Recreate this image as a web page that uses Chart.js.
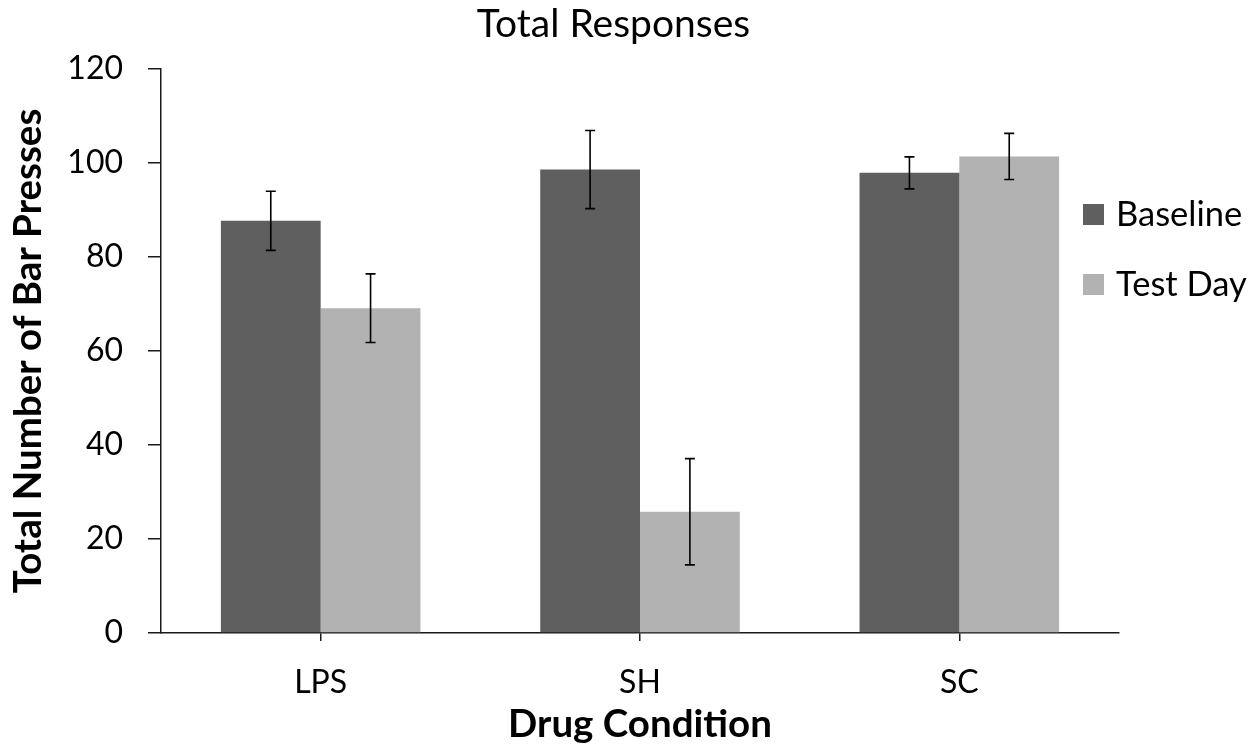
<!DOCTYPE html>
<html>
<head>
<meta charset="utf-8">
<title>Total Responses</title>
<script src="https://cdn.jsdelivr.net/npm/chart.js@4.4.1/dist/chart.umd.min.js"></script>
<style>
    html, body { margin: 0; padding: 0; background: #ffffff; }
</style>
</head>
<body>
<canvas id="responsesChart" width="1257" height="748"></canvas>
<script>
// Chart data
const conditions = ['LPS', 'SH', 'SC'];
const seriesNames = ['Baseline', 'Test Day'];
const baselineMeans = [87.7, 98.6, 97.9];
const baselineErrors = [6.3, 8.3, 3.4];
const testDayMeans = [69.1, 25.8, 101.4];
const testDayErrors = [7.3, 11.3, 4.9];
const yTicks = [0, 20, 40, 60, 80, 100, 120];

const FONT = 'Lato, "Open Sans", sans-serif';

// Draws the +/- error bars on top of each bar
const errorBarPlugin = {
    id: 'errorBars',
    afterDatasetsDraw: function (chart) {
        const ctx = chart.ctx;
        const yScale = chart.scales.y;
        ctx.save();
        ctx.strokeStyle = '#000000';
        ctx.lineWidth = 1.6;
        chart.data.datasets.forEach(function (ds, i) {
            const meta = chart.getDatasetMeta(i);
            meta.data.forEach(function (bar, j) {
                const top = yScale.getPixelForValue(ds.data[j] + ds.errors[j]);
                const bottom = yScale.getPixelForValue(ds.data[j] - ds.errors[j]);
                const x = bar.x;
                ctx.beginPath();
                ctx.moveTo(x, top);
                ctx.lineTo(x, bottom);
                ctx.moveTo(x - 5, top);
                ctx.lineTo(x + 5, top);
                ctx.moveTo(x - 5, bottom);
                ctx.lineTo(x + 5, bottom);
                ctx.stroke();
            });
        });
        ctx.restore();
    }
};

// Legend drawn inside the plot, to the right of the last group
const sideLegendPlugin = {
    id: 'sideLegend',
    afterDraw: function (chart) {
        const ctx = chart.ctx;
        ctx.save();
        ctx.font = '34.5px ' + FONT;
        ctx.textBaseline = 'middle';
        ctx.textAlign = 'left';
        chart.data.datasets.forEach(function (ds, i) {
            const cy = 214 + i * 70;
            ctx.fillStyle = ds.backgroundColor;
            ctx.fillRect(1083, cy - 10, 21, 21);
            ctx.fillStyle = '#000000';
            ctx.fillText(ds.label, 1116, cy + 1);
        });
        ctx.restore();
    }
};

const ctx = document.getElementById('responsesChart').getContext('2d');

new Chart(ctx, {
    type: 'bar',
    data: {
        labels: conditions,
        datasets: [{
            label: seriesNames[0],
            data: baselineMeans,
            errors: baselineErrors,
            backgroundColor: '#5f5f5f',
            borderWidth: 0
        }, {
            label: seriesNames[1],
            data: testDayMeans,
            errors: testDayErrors,
            backgroundColor: '#b2b2b2',
            borderWidth: 0
        }]
    },
    options: {
        responsive: false,
        animation: false,
        events: [],
        categoryPercentage: 0.625,
        barPercentage: 1.0,
        layout: {
            padding: { left: 0, right: 30, top: 0, bottom: 0 }
        },
        plugins: {
            legend: { display: false },
            tooltip: { enabled: false },
            title: {
                display: true,
                text: 'Total Responses',
                color: '#000000',
                font: { family: FONT, size: 39, weight: 'normal', lineHeight: 1.2 },
                padding: { top: 1, bottom: 21.2 }
            }
        },
        scales: {
            x: {
                afterFit: function (scale) { scale.height = 115; },
                grid: {
                    offset: false,
                    drawOnChartArea: false,
                    drawTicks: true,
                    tickLength: 8,
                    color: '#1a1a1a',
                    lineWidth: 1.5
                },
                border: { display: true, color: '#1a1a1a', width: 1.5 },
                ticks: {
                    color: '#000000',
                    padding: 22,
                    font: { family: FONT, size: 32 }
                },
                title: {
                    display: true,
                    text: 'Drug Condition',
                    color: '#000000',
                    font: { family: FONT, size: 38.5, weight: 'bold', lineHeight: 1.2 },
                    padding: { top: 0, bottom: 0 }
                }
            },
            y: {
                min: 0,
                max: 120,
                afterFit: function (scale) { scale.width = 161; },
                afterBuildTicks: function (scale) {
                    scale.ticks = yTicks.map(function (v) { return { value: v }; });
                },
                grid: {
                    drawOnChartArea: false,
                    drawTicks: true,
                    tickLength: 13,
                    color: '#1a1a1a',
                    lineWidth: 1.5
                },
                border: { display: true, color: '#1a1a1a', width: 1.5 },
                ticks: {
                    color: '#000000',
                    padding: 25,
                    font: { family: FONT, size: 32 }
                },
                title: {
                    display: true,
                    text: 'Total Number of Bar Presses',
                    color: '#000000',
                    font: { family: FONT, size: 38.5, weight: 'bold', lineHeight: 1.2 },
                    padding: { top: 5, bottom: 0 }
                }
            },
            // empty axis that only reserves room on the right for the legend
            legendSpace: {
                type: 'linear',
                position: 'right',
                display: true,
                afterFit: function (scale) { scale.width = 108; },
                grid: { display: false },
                border: { display: false },
                ticks: { display: false }
            }
        }
    },
    plugins: [errorBarPlugin, sideLegendPlugin]
});
</script>
</body>
</html>
